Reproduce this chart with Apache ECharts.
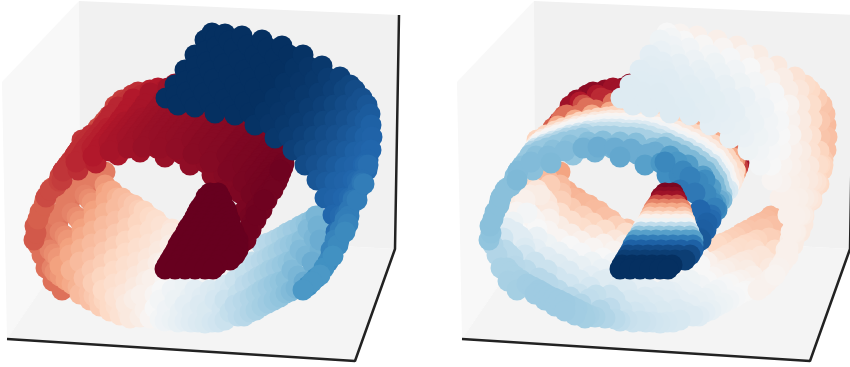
<!DOCTYPE html>
<html><head><meta charset="utf-8">
<style>html,body{margin:0;padding:0;background:#fff}#c{width:850px;height:367px;filter:blur(.4px)}</style>
<script src="https://cdn.jsdelivr.net/npm/echarts@6/dist/echarts.min.js"></script>
</head><body><div id="c"></div>
<script>
// Each row: value in left panel, then x, y, value in right panel for each point.
const bandA = [
[-.55,38,245,.3,42,255,.3,46,268,.32,53,281,.33,62,290,.34],
[-.54,48,238,.2,52,228,.12,58,222,.05,62,212,-.02,70,200,-.05,75,195,-.08,82,190,-.12,95,185,-.25],
[-.52,55,215,-.02,65,200,-.08,78,188,-.2,92,178,-.32,105,172,-.4],
[-.5,85,195,-.08,72,213,.02,60,232,.12,50,250,.27,52,268,.32],
[-.47,89,199,-.12,77,217,-.02,65,236,.12,54,254,.27,55,272,.32],
[-.44,105,185,-.32,92,203,-.12,80,221,-.02,68,240,.12,58,258,.27,60,276,.32],
[-.41,106,193,-.28,94,211,-.1,82,229,0,70,248,.15,60,266,.28,66,280,.33],
[-.38,112,191,-.36,106,201,-.24,94,219,-.05,82,237,.07,70,255,.2,72,284,.35],
[-.35,117,198,-.34,105,213,-.17,93,231,-.02,81,249,.1,71,270,.27,78,287,.35],
[-.32,122,198,-.36,116,208,-.26,104,226,-.08,92,244,.05,80,262,.22,84,290,.36,80,294,.36],
[-.3,128,203,-.33,116,221,-.17,104,239,-.02,92,257,.12,84,278,.28,89,293,.36,90,300,.36],
[-.27,134,205,-.34,128,216,-.24,116,234,-.07,104,252,.06,92,270,.22,94,296,.36],
[-.25,139,210,-.32,127,228,-.18,115,246,0,103,264,.13,93,283,.28,99,298,.36,100,306,.36],
[-.22,144,211,-.32,138,223,-.22,126,241,-.05,114,259,.07,102,277,.2,104,300,.36],
[-.2,150,217,-.3,138,235,-.12,126,253,.01,114,271,.14,103,290,.27,110,303,.36,110,311,.36],
[-.17,156,220,-.3,150,230,-.18,138,248,-.02,126,266,.08,114,284,.2,116,306,.35],
[-.15,161,226,-.24,149,244,-.05,137,262,.05,125,280,.15,115,297,.28,122,309,.35,120,315,.35],
[-.12,172,229,-.28,160,240,-.12,148,258,0,136,276,.1,124,294,.22,128,312,.34],
[-.1,171,233,-.18,159,251,-.03,147,269,.07,135,287,.18,126,304,.3,134,315,.33,130,318,.34],
[-.07,170,245,-.07,158,263,.03,146,281,.13,134,299,.25,140,317,.32],
[-.05,164,262,.03,152,279,.12,141,295,.24,145,310,.3],
[-.02,165,280,.12,155,295,.22,150,318,.3],
[0,162,290,.15,155,308,.26],
[.02,160,300,.22,160,319,.27],
[.04,172,290,.14,167,310,.22,165,321,.25],
[.06,185,285,.1,175,300,.17,172,320,.23],
[.08,190,297,.14,180,312,.2,178,322,.22],
[.1,195,290,.1,185,305,.17,185,321,.22],
[.12,202,297,.12,192,312,.18,191,322,.21],
[.14,210,290,.1,200,305,.15,198,322,.2],
[.16,217,292,.09,207,311,.16,205,323,.19],
[.18,225,285,.06,215,300,.12,212,322,.18],
[.2,230,290,.07,222,309,.14,218,322,.17],
[.22,245,265,0,235,280,.05,225,300,.1,225,320,.17],
[.24,252,262,-.05,245,275,0,238,294,.07,230,312,.13],
[.26,262,245,-.2,255,265,-.08,245,285,.03,235,305,.1,238,316,.14],
[.28,268,243,-.22,261,261,-.11,252,281,0,243,301,.08,244,316,.12],
[.3,275,240,-.24,267,258,-.14,258,277,-.02,250,298,.07,250,312,.1],
[.32,281,237,-.25,272,255,-.15,264,274,-.04,256,294,.05,256,310,.08],
[.34,287,233,-.27,278,252,-.17,270,270,-.06,262,290,.03,262,306,.06],
[.36,293,230,-.28,284,248,-.18,276,268,-.08,268,287,.01,268,303,.05],
[.38,300,226,-.3,290,245,-.2,282,265,-.1,274,284,-.01,274,300,.03],
[.4,306,223,-.31,296,243,-.21,288,262,-.11,280,282,-.03,280,297,.01],
[.42,312,220,-.32,302,240,-.22,294,260,-.12,286,280,-.04,286,293,0],
[.44,308,229,-.28,300,250,-.17,292,270,-.08,291,291,-.01],
[.46,316,216,-.33,314,238,-.24,306,256,-.13,298,276,-.06,296,288,-.03],
[.48,318,226,-.3,320,250,-.18,315,268,-.1,306,285,-.05],
[.5,320,240,-.25,312,262,-.13,304,282,-.06]
];
const bandB = [
[-.62,34,240,.4,35,226,.42,36,233,.41],
[-.6,40,212,.42,45,200,.42,52,188,.4,38,219,.42,44,205,.42],
[-.66,46,197,.42,56,186,.42,106,120,-.55,50,190,.42,62,175,.4,68,167,.32,74,160,.15,80,152,-.05,86,144,-.2,92,136,-.4,98,128,-.6,104,122,-.75],
[-.68,59,181,.42,109,116,-.6,115,106,-.85,70,162,.2,67,166,.3,63,171,.38,60,176,.42],
[-.7,62,180,.45,112,115,-.55,122,100,-.88],
[-.72,125,102,-.8,132,95,-.9,82,140,-.22,82,144,-.1,80,148,-.02,78,151,.03,76,154,.2,74,157,.3,71,161,.38,67,166,.42,63,171,.44],
[-.74,78,170,.42,128,105,-.65,138,92,-.9,91,135,-.22,88,139,-.1,85,142,-.02,83,145,.03,81,148,.2,78,151,.3,75,155,.38],
[-.76,92,160,.42,132,108,-.55,142,95,-.82,118,107,-.92,111,115,-.75,107,121,-.55,103,126,-.38,100,131,-.22,97,135,-.1,94,138,-.02,92,141,.03,90,144,.2,87,147,.3,84,151,.38,81,156,.42,76,162,.44],
[-.78,96,163,.45,146,98,-.75,150,90,-.9,108,128,-.22,105,132,-.1,102,135,-.02,100,138,.03,98,141,.2,95,144,.3,92,148,.38],
[-.8,152,100,-.75,158,88,-.85,133,99,-.92,128,109,-.75,124,115,-.55,120,120,-.38,117,125,-.22,114,129,-.1,111,132,-.02,109,135,.03,107,138,.2,104,141,.3,101,145,.38,98,150,.42,93,156,.44],
[-.815,125,122,-.22,122,126,-.1,119,129,-.02,117,132,.03,115,135,.2,112,138,.3,109,142,.38],
[-.82,118,155,.4,158,103,-.55,165,90,-.85],
[-.83,150,93,-.92,145,104,-.75,141,110,-.55,137,115,-.38,134,120,-.22,131,124,-.1,128,127,-.02,126,130,.03,124,133,.2,121,136,.3,118,140,.38,115,145,.42,110,151,.44],
[-.835,134,147,.44,172,95,-.8],
[-.84,143,118,-.22,140,122,-.1,137,125,-.02,135,128,.03,133,131,.2,130,134,.3,127,138,.38],
[-.85,140,152,.48,180,100,-.55,175,84,-.9,168,88,-.92,163,101,-.75,159,107,-.55,155,112,-.38,152,117,-.22,149,121,-.1,146,124,-.02,144,127,.03,142,130,.14,139,133,.24,136,137,.33,133,142,.43,128,148,.48],
[-.86,157,148,.47,159,116,-.22,156,120,-.1,153,123,-.02,151,126,.03,149,129,.14,146,132,.24,143,136,.33],
[-.87,165,157,.52,180,86,-.92,178,100,-.75,174,106,-.55,170,111,-.38,167,116,-.22,164,120,-.1,161,123,-.02,159,126,.03,157,129,.14,154,132,.24,151,136,.33,148,141,.43,143,147,.5],
[-.875,175,116,-.22,172,120,-.1,169,123,-.02,167,126,.03,165,129,.14,162,132,.24,159,136,.33],
[-.88,182,154,.5,187,112,-.38,184,117,-.22,181,121,-.1,178,124,-.02,176,127,.03,174,130,.14,171,133,.24,168,137,.33,165,142,.43,160,148,.5],
[-.885,192,117,-.22,189,121,-.1,186,124,-.02,184,127,.03,182,130,.14,179,133,.24,176,137,.33],
[-.89,190,165,.55,200,152,.5,200,118,-.22,197,122,-.1,194,125,-.02,192,128,.03,190,131,.14,187,134,.24,184,138,.33,181,143,.43,176,149,.5],
[-.9,206,163,.58,208,120,-.22,205,124,-.1,202,127,-.02,200,130,.03,198,133,.14,195,136,.24,192,140,.33],
[-.91,212,175,.62,222,162,.58,217,123,-.22,214,127,-.1,211,130,-.02,209,133,.03,207,136,.14,204,139,.24,201,143,.33,198,148,.43,193,154,.5],
[-.915,225,127,-.22,222,131,-.1,219,134,-.02,217,137,.03,215,140,.18,212,143,.34,209,147,.45],
[-.92,224,175,.65,237,126,-.38,234,131,-.22,231,135,-.1,228,138,-.02,226,141,.03,224,144,.18,221,147,.34,218,151,.45,215,156,.56,210,162,.65],
[-.93,225,190,.72,235,177,.68,265,140,-.4,243,135,-.22,240,139,-.1,237,142,-.02,235,145,.03,233,148,.18,230,151,.34,227,155,.45],
[-.94,240,193,.72,250,180,.62,272,145,-.55,259,130,-.55,255,135,-.38,252,140,-.22,249,144,-.1,246,147,-.02,244,150,.03,242,153,.18,239,156,.34,236,160,.45,233,165,.56,228,171,.65],
[-.945,259,145,-.22,256,149,-.1,253,152,-.02,251,155,.03,249,158,.18,246,161,.34,243,165,.45],
[-.95,245,210,.8,255,197,.58,280,155,-.55,274,141,-.55,270,146,-.38,267,151,-.22,264,155,-.1,261,158,-.02,259,161,.03,257,164,.18,254,167,.34,251,171,.45,248,176,.56,243,182,.65],
[-.955,271,157,-.22,268,161,-.1,265,164,-.02,263,167,.03,261,170,.18,258,173,.34,255,177,.45],
[-.96,250,217,.75,258,203,.62,280,160,-.45,282,153,-.55,278,158,-.38,275,163,-.22,272,167,-.1,269,170,-.02,267,173,.03,265,176,.18,262,179,.34,259,183,.45,256,188,.56,251,194,.65],
[-.965,277,170,-.22,274,174,-.1,271,177,-.02,269,180,.03,267,183,.18,264,186,.34,261,190,.45],
[-.97,244,238,.84,252,223,.82,260,208,.68,284,163,-.85,283,167,-.7,281,172,-.4,279,177,-.15,277,182,-.1,274,185,-.02,272,188,.03,270,191,.18,267,194,.34,264,198,.45,261,203,.56,256,209,.65,273,190,.15,267,200,.45,262,210,.65,256,220,.78,251,230,.82,246,240,.85],
[-.98,240,245,.85,248,230,.83,256,215,.75,264,200,.5,280,170,-.2]
];
const lobe = [
[-1,210,193,-.95,218,193,-.95],
[-1,206,197,-.9,214,197,-.9,220,197,-.9],
[-1,205,201,-.85,213,201,-.85,222,201,-.85],
[-1,202,205,-.65,212,205,-.65,222,205,-.65],
[-1,199,209,-.5,209,209,-.5,219,209,-.5,226,209,-.5],
[-1,197,213,-.38,207,213,-.38,217,213,-.38,227,213,-.38],
[-1,195,217,-.28,205,217,-.28,215,217,-.28,228,217,-.28],
[-1,193,221,-.17,203,221,-.17,213,221,-.17,223,221,-.17,230,221,-.17],
[-1,191,224,-.05,201,224,-.05,211,224,-.05,221,224,-.05,230,224,-.05],
[-1,188,228,.05,198,228,.05,208,228,.05,218,228,.05,228,228,.05,232,228,.05],
[-1,186,232,.25,196,232,.25,206,232,.25,216,232,.25,226,232,.25,234,232,.25],
[-1,184,236,.4,194,236,.4,204,236,.4,214,236,.4,224,236,.4,235,236,.4],
[-1,181,240,.55,191,240,.55,201,240,.55,211,240,.55,221,240,.55,231,240,.55,238,240,.55],
[-1,178,245,.7,188,245,.7,198,245,.7,208,245,.7,218,245,.7,228,245,.7,238,245,.7],
[-1,176,250,.82,186,250,.82,196,250,.82,206,250,.82,216,250,.82,226,250,.82,238,250,.82],
[-1,173,255,.9,183,255,.9,193,255,.9,203,255,.9,213,255,.9,223,255,.9,235,255,.9],
[-1,170,260,.95,180,260,.95,190,260,.95,200,260,.95,210,260,.95,220,260,.95,230,260,.95],
[-1,167,265,1,177,265,1,187,265,1,197,265,1,207,265,1,217,265,1],
[-1,165,269,1,175,269,1,185,269,1,195,269,1,205,269,1,213,269,1]
];
const bandC = [
[1,166,98,.13,175,85,.13,185,70,.12,195,55,.1,205,40,.05,212,33,0],
[1,176,95,.13,186,81,.125,196,66,.11,206,51,.07,216,38,.02],
[1,178,105,.13,187,92,.13,197,78,.12,207,62,.1,217,46,.04,225,34,-.03],
[1,191,99,.13,200,85,.125,210,71,.11,220,55,.06,229,41,0],
[1,195,107,.13,204,93,.13,214,79,.12,224,64,.09,234,48,.03,242,36,-.05],
[1,210,103,.13,219,89,.12,229,75,.1,239,60,.055,248,45,-.01],
[1,215,113,.13,225,99,.12,235,85,.11,245,70,.08,255,55,.02,262,40,-.06],
[1,230,107,.125,240,93,.115,250,78,.09,260,63,.045,268,48,-.02],
[1,235,115,.12,245,102,.11,255,88,.1,265,73,.06,275,58,.01,282,46,-.07],
[1,250,113,.11,260,100,.105,270,85,.08,280,70,.03,289,55,-.03],
[.99,255,125,.1,265,112,.1,275,98,.09,285,83,.05,295,68,0,303,55,-.08],
[.98,270,124,.09,280,112,.09,290,97,.07,300,82,.02,309,67,-.05],
[.97,275,138,.08,285,125,.08,295,110,.06,305,95,.03,315,80,-.03,322,66,-.1],
[.955,289,137,.065,299,123,.06,309,108,.04,319,93,.01,328,78,-.07],
[.94,293,150,.05,303,136,.05,313,121,.03,323,106,0,333,90,-.07,340,77,-.14],
[.92,304,150,.03,314,136,.03,324,121,.01,334,105,-.03,344,90,-.12,350,85,-.18],
[.9,305,165,.02,315,150,.01,325,135,0,335,120,-.04,345,105,-.1,355,90,-.2],
[.88,316,165,0,326,150,-.01,336,135,-.03,346,120,-.09,356,105,-.18,362,98,-.25],
[.86,317,180,-.02,327,165,-.03,337,150,-.05,347,135,-.1,357,120,-.18,367,105,-.28],
[.84,326,182,-.035,336,166,-.05,346,151,-.08,356,136,-.16,365,121,-.27,370,114,-.3],
[.82,325,198,-.05,335,182,-.06,345,167,-.08,355,152,-.15,365,137,-.28,371,125,-.32],
[.81,334,199,-.05,344,182,-.07,354,166,-.11,364,151,-.22,372,137,-.3],
[.8,333,215,-.05,343,198,-.06,353,180,-.1,363,165,-.18,371,150,-.3,368,160,-.26],
[.78,340,216,-.05,349,198,-.08,357,181,-.13,365,165,-.2,367,170,-.22],
[.76,336,232,-.05,345,215,-.06,353,198,-.1,361,182,-.15,368,165,-.22,362,180,-.2,358,190,-.17],
[.73,340,232,-.06,348,215,-.08,356,199,-.12,362,183,-.18,353,200,-.14,349,210,-.12],
[.7,333,248,-.05,341,232,-.07,349,216,-.1,357,200,-.14,364,184,-.2,345,220,-.1,340,230,-.08],
[.67,331,255,-.06,339,240,-.08,348,224,-.1,335,240,-.07,331,250,-.06],
[.64,328,262,-.05,338,245,-.08,345,232,-.1],
[.61,324,268,-.04,333,256,-.05,316,278,-.04,308,286,-.05],
[.58,320,275,-.03,312,282,-.05,303,290,-.04]
];
const wallLeft = [[2,82],[79,1],[80,232],[7,339]];
const wallBack = [[79,1],[399,15],[395,249],[80,232]];
const wallFloor = [[7,339],[80,232],[395,249],[355,361]];
const frame = [[7,339],[355,361],[395,249],[399,15]];
const colormap = ['#67001f','#b2182b','#d6604d','#f4a582','#fddbc7','#f7f7f7','#d1e5f0','#92c5de','#4393c3','#2166ac','#053061'];

function left(b){const o=[];b.forEach(r=>{for(let i=1;i<r.length;i+=3)o.push([r[i],r[i+1],r[0]]);});return o;}
function right(b){const o=[];b.forEach(r=>{for(let i=1;i<r.length;i+=3)o.push([r[i],r[i+1],r[i+2]]);});return o.sort((a,c)=>a[2]-c[2]);}
function pane(pts,color,ax){return {type:'custom',xAxisIndex:ax,yAxisIndex:ax,z:1,silent:true,clip:true,
  data:[0],encode:{x:[],y:[]},renderItem:(p,api)=>({type:'polygon',shape:{points:pts.map(q=>api.coord(q))},style:{fill:color}})};}
function band(data,ax,z){return {type:'scatter',xAxisIndex:ax,yAxisIndex:ax,z:z,symbolSize:21,data:data,
  silent:true,progressive:0,itemStyle:{opacity:1},encode:{x:0,y:1}};}
const series=[];
[0,1].forEach(ax=>{
  series.push(pane(wallLeft,'#f8f8f8',ax),pane(wallBack,'#f1f1f1',ax),pane(wallFloor,'#f4f4f4',ax));
  series.push({type:'line',xAxisIndex:ax,yAxisIndex:ax,z:2,data:frame,symbol:'none',silent:true,clip:true,lineStyle:{color:'#222',width:2.5}});
});
const pick=[left,right];
[0,1].forEach(ax=>{[bandA,bandB,lobe,bandC].forEach((b,i)=>series.push(band(pick[ax](b),ax,3+i)));});
const bandIdx=series.map((s,i)=>s.type==='scatter'?i:-1).filter(i=>i>=0);
const ax=(m)=>({type:'value',min:0,max:m,show:false});
const chart=echarts.init(document.getElementById('c'),null,{renderer:'canvas'});
chart.setOption({
  animation:false,backgroundColor:'#fff',
  grid:[{left:0,top:0,width:850,height:367},{left:455,top:0,width:395,height:367}],
  xAxis:[Object.assign(ax(850),{gridIndex:0}),Object.assign(ax(395),{gridIndex:1})],
  yAxis:[Object.assign(ax(367),{gridIndex:0,inverse:true}),Object.assign(ax(367),{gridIndex:1,inverse:true})],
  visualMap:{show:false,type:'continuous',min:-1,max:1,dimension:2,seriesIndex:bandIdx,inRange:{color:colormap}},
  series:series
});
</script></body></html>
